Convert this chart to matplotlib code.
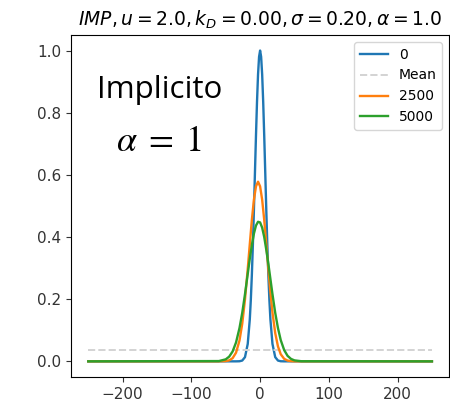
import matplotlib

matplotlib.use("Agg")
import matplotlib.pyplot as plt  # noqa: E402

# sampled profile positions for the later times
x = [-250, -60, -50, -45, -40, -35, -30, -26, -22, -18, -15, -12, -9, -6, -3,
     0, 3, 6, 9, 12, 15, 18, 22, 26, 30, 35, 40, 45, 50, 60, 250]

# t = 0 (finer sampling around the narrow peak)
x_0 = [-250, -35, -30, -26, -22, -18, -15, -13.5, -12, -10.5, -9, -7.5, -6, -4.5, -3, -1.5,
       0, 1.5, 3, 4.5, 6, 7.5, 9, 10.5, 12, 13.5, 15, 18, 22, 26, 30, 35, 250]
y_0 = [0, 0, 0.0003, 0.0025, 0.0135, 0.056, 0.135, 0.198, 0.278, 0.375, 0.487, 0.607, 0.726, 0.835, 0.923, 0.980,
       1.0, 0.980, 0.923, 0.835, 0.726, 0.607, 0.487, 0.375, 0.278, 0.198, 0.135, 0.056, 0.0135, 0.0025, 0.0003, 0, 0]
# t = 2500
y_2500 = [0, 0, 0.0008, 0.0031, 0.0101, 0.028, 0.0669, 0.121, 0.199, 0.297, 0.377, 0.455, 0.520, 0.563, 0.578,
          0.563, 0.520, 0.455, 0.377, 0.297, 0.222, 0.157, 0.091, 0.048, 0.023, 0.0081, 0.0024, 0.0006, 0, 0, 0]
# t = 5000
y_5000 = [0, 0.0009, 0.0065, 0.0151, 0.0317, 0.0609, 0.107, 0.156, 0.216, 0.281, 0.330, 0.374, 0.411, 0.437, 0.449,
          0.447, 0.430, 0.400, 0.359, 0.314, 0.265, 0.216, 0.156, 0.107, 0.0686, 0.0364, 0.0176, 0.0078, 0.0031, 0.0004, 0]

mean_x = [-250, 250]
mean_y = [0.038, 0.038]

title = r"$IMP, u=2.0, k_D=0.00, \sigma=0.20, \alpha=1.0$"

fig = plt.figure(figsize=(4.5, 4.07), dpi=100)
ax = fig.add_axes([0.158, 0.074, 0.84, 0.84])

ax.plot(x_0, y_0, color="tab:blue", lw=1.7, label="0")
ax.plot(mean_x, mean_y, color="lightgray", ls="--", lw=1.4, label="Mean")
ax.plot(x, y_2500, color="tab:orange", lw=1.7, label="2500")
ax.plot(x, y_5000, color="tab:green", lw=1.7, label="5000")

ax.set_xticks([-200, -100, 0, 100, 200])
ax.set_yticks([0.0, 0.2, 0.4, 0.6, 0.8, 1.0])
ax.tick_params(labelsize=11, colors="#333333", labelcolor="#333333")
ax.set_title(title, fontsize=13.5, pad=7)
ax.legend(loc="upper right", fontsize=10)

ax.text(0.235, 0.816, "Implicito", transform=ax.transAxes, ha="center",
        va="baseline", fontsize=22.5, family="Open Sans")
ax.text(0.232, 0.661, r"$\alpha\;=\;1$", transform=ax.transAxes, ha="center",
        va="baseline", fontsize=26, math_fontfamily="stix")

fig.savefig("out.png", dpi=100)
